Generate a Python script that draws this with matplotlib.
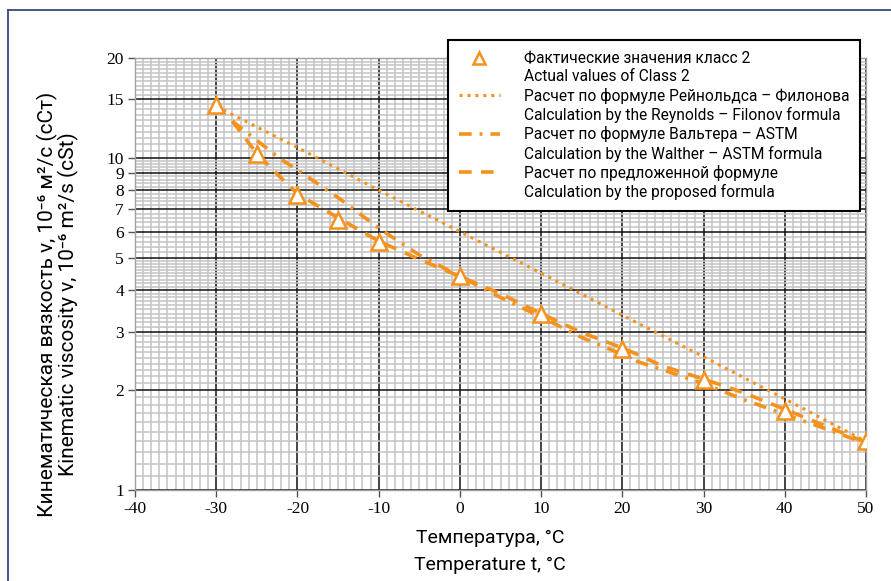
import numpy as np
import matplotlib
matplotlib.use("Agg")
import matplotlib.pyplot as plt
from matplotlib.lines import Line2D
from matplotlib.ticker import FixedLocator, NullFormatter

plt.rcParams['axes.unicode_minus'] = False

# --- data ---
t_actual = [-30, -25, -20, -15, -10, 0, 10, 20, 30, 40, 50]
nu_actual = [14.4, 10.3, 7.75, 6.5, 5.6, 4.4, 3.4, 2.65, 2.14, 1.73, 1.40]

t_reyn = [-30, -20, -10, 0, 10, 20, 30, 40, 50]
nu_reyn = [14.3, 10.75, 8.0, 6.0, 4.5, 3.36, 2.52, 1.88, 1.40]

t_walther = [-28, -25, -22, -20, -15, -10, -5, 0, 5, 10, 15, 20, 22, 25, 30, 35, 40, 45, 50]
nu_walther = [12.9, 11.3, 9.9, 9.2, 7.6, 6.15, 5.1, 4.4, 3.8, 3.32, 2.88, 2.56, 2.43, 2.3, 2.09, 1.87, 1.69, 1.53, 1.38]

t_prop = [-28, -25, -22, -20, -15, -10, -5, 0, 5, 10, 15, 20, 22, 25, 30, 35, 40, 45, 50]
nu_prop = [12.9, 10.3, 8.7, 7.8, 6.6, 5.62, 4.95, 4.4, 3.9, 3.4, 2.98, 2.68, 2.55, 2.36, 2.16, 1.96, 1.75, 1.56, 1.39]

y_major = [1, 2, 3, 4, 5, 6, 7, 8, 9, 10, 15, 20]
y_labels = ['1', '2', '3', '4', '5', '6', '7', '8', '9', '10', '15', '20']

leg_labels = [
    'Фактические значения класс 2', 'Actual values of Class 2',
    'Расчет по формуле Рейнольдса – Филонова', 'Calculation by the Reynolds – Filonov formula',
    'Расчет по формуле Вальтера – ASTM', 'Calculation by the Walther – ASTM formula',
    'Расчет по предложенной формуле', 'Calculation by the proposed formula',
]

orange = '#f5921e'
sans = ['Roboto', 'DejaVu Sans']
serif = 'Liberation Serif'

fig = plt.figure(figsize=(8.91, 5.81), dpi=100)
ax = fig.add_axes([135 / 891, 1 - 490 / 581, (866 - 135) / 891, (490 - 58) / 581])
ax.set_yscale('log')
ax.set_xlim(-40, 50)
ax.set_ylim(1, 20)

# grid
y_minor = list(np.arange(1.1, 5.0, 0.1)) + list(np.arange(5.2, 10.0, 0.2)) + list(np.arange(10.5, 20.0, 0.5))
ax.yaxis.set_major_locator(FixedLocator(y_major))
ax.yaxis.set_minor_locator(FixedLocator(y_minor))
ax.yaxis.set_minor_formatter(NullFormatter())
ax.set_yticklabels(y_labels)
ax.set_xticks(range(-40, 51, 10))
ax.xaxis.set_minor_locator(FixedLocator(range(-40, 51, 1)))
ax.grid(which='minor', color='#c4c4c4', lw=1.1, zorder=0)
ax.grid(which='major', color='#111111', lw=1.1, zorder=0)
ax.set_axisbelow(True)
for s in ax.spines.values():
    s.set_color('#a0a0a0')
    s.set_linewidth(1.0)
ax.tick_params(which='major', length=5, width=1, color='#555555', pad=3,
               labelsize=12.5, direction='out')
ax.tick_params(which='minor', length=0)
for lab in ax.get_xticklabels() + ax.get_yticklabels():
    lab.set_fontfamily(serif)

# series
ax.plot(t_reyn, nu_reyn, color=orange, lw=2.2, linestyle=(0, (1, 1.6)), zorder=3)
ax.plot(t_walther, nu_walther, color=orange, lw=2.6, linestyle=(0, (3.5, 2.2, 0.8, 2.2)), zorder=3)
ax.plot(t_prop, nu_prop, color=orange, lw=2.6, linestyle=(0, (3.5, 2.6)), zorder=3)
ax.plot(t_actual, nu_actual, linestyle='none', marker='^', markersize=11,
        markerfacecolor='white', markeredgecolor=orange, markeredgewidth=1.8, zorder=4)

# legend
blank = Line2D([], [], linestyle='none')
handles = [
    Line2D([], [], linestyle='none', marker='^', markersize=9, markerfacecolor='none',
           markeredgecolor=orange, markeredgewidth=1.8), blank,
    Line2D([], [], color=orange, lw=2.2, linestyle=(0, (1, 1.6))), blank,
    Line2D([], [], color=orange, lw=2.6, linestyle=(0, (3.5, 2.2, 0.8, 2.2))), blank,
    Line2D([], [], color=orange, lw=2.6, linestyle=(0, (3.5, 2.6))), blank,
]
leg = ax.legend(handles, leg_labels, loc='upper left',
                bbox_to_anchor=(448 / 891, 1 - 40 / 581), bbox_transform=fig.transFigure,
                borderaxespad=0, frameon=True, fancybox=False, framealpha=1,
                edgecolor='black', prop={'family': sans, 'size': 11.2},
                handlelength=2.6, handletextpad=1.55, labelspacing=0.21, borderpad=0.72)
leg.get_frame().set_linewidth(1.5)
leg.set_zorder(10)

# axis labels
fig.text(58 / 891, 1 - 304 / 581,
         'Кинематическая вязкость ν, 10⁻⁶ м²/с (сСт)\nKinematic viscosity ν, 10⁻⁶ m²/s (cSt)',
         rotation=90, ha='center', va='center', multialignment='center',
         family=sans, fontsize=15, linespacing=1.0)
fig.text(490 / 891, 1 - 538 / 581, 'Температура, °C', ha='center', va='center',
         family=sans, fontsize=14)
fig.text(490 / 891, 1 - 565 / 581, 'Temperature t, °C', ha='center', va='center',
         family=sans, fontsize=14)

# frame lines of the figure panel
fy = 1 - 10 / 581
fx = 8 / 891
fig.add_artist(Line2D([fx, fx], [0, fy], transform=fig.transFigure, color='#2f4a78', lw=1.3))
fig.add_artist(Line2D([fx, 1], [fy, fy], transform=fig.transFigure, color='#2f4a78', lw=1.3))

fig.savefig('out.png', dpi=100)
